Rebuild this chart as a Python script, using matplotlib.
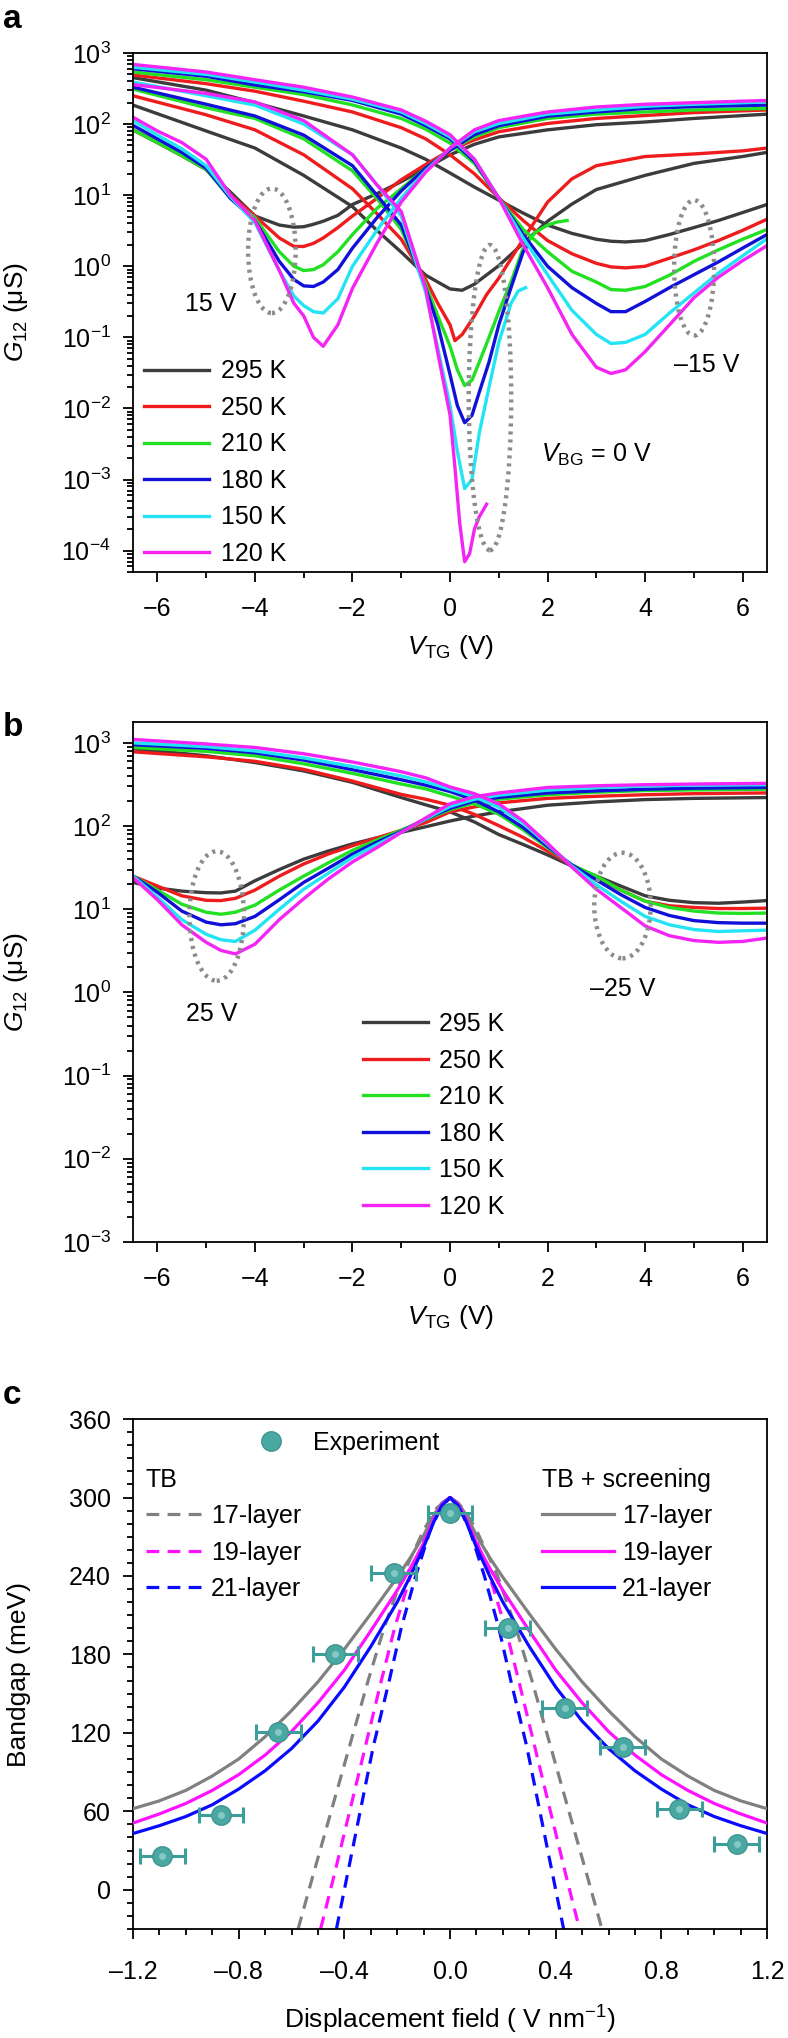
import numpy as np
import matplotlib
matplotlib.use("Agg")
import matplotlib.pyplot as plt
from matplotlib.patches import Ellipse
from matplotlib.lines import Line2D
from matplotlib.ticker import LogLocator, MultipleLocator, NullFormatter, FuncFormatter

plt.rcParams['font.family'] = ['Liberation Sans', 'DejaVu Sans']
plt.rcParams['mathtext.fontset'] = 'custom'
plt.rcParams['mathtext.rm'] = 'Liberation Sans'
plt.rcParams['mathtext.it'] = 'Liberation Sans:italic'
plt.rcParams['mathtext.bf'] = 'Liberation Sans:bold'

temps = ["295 K", "250 K", "210 K", "180 K", "150 K", "120 K"]
colors = ["#3c3c3c", "#ee1c1c", "#22e022", "#1010d8", "#22e4f4", "#f424f4"]

# ---- panel a: V_BG = 15 V (minimum near -3 V)
a15_x = [-6.5, -6, -5.5, -5, -4.5, -4, -3.5, -3.2, -3, -2.8, -2.6, -2.3, -2, -1.5, -1, -0.5,
         0, 0.5, 1, 2, 3, 4, 5, 6.5]
a15_y = [
    [83, 55, 36, 23, 11, 5.1, 3.8, 3.55, 3.6, 3.9, 4.3, 5.2, 7.4, 10.5, 15.5, 24, 37, 52, 66, 83, 98, 107, 120, 138],
    [83, 55, 36, 23, 10, 5.1, 2.5, 1.9, 1.9, 2.1, 2.5, 3.5, 5.1, 9, 16.5, 27, 43, 60, 78, 102, 120, 132, 145, 158],
    [83, 55, 36, 23, 9, 4.8, 1.6, 1.0, 0.87, 0.9, 1.05, 1.6, 2.8, 6.5, 12.3, 24, 43, 66, 89, 120, 138, 148, 158, 166],
    [96, 62, 40, 24, 9, 4.4, 1.17, 0.65, 0.53, 0.52, 0.6, 0.9, 1.8, 4.8, 11.5, 24, 43, 71, 95, 129, 148, 166, 176, 185],
    [112, 70, 45, 26, 9.5, 4.1, 0.87, 0.38, 0.28, 0.23, 0.22, 0.35, 1.0, 3.2, 9.1, 22, 46, 78, 102, 138, 158, 178, 190, 205],
    [125, 80, 55, 32, 10, 4.4, 0.87, 0.3, 0.2, 0.1, 0.075, 0.15, 0.49, 2.1, 8, 21, 46, 83, 112, 148, 174, 190, 200, 215],
]

# ---- panel a: V_BG = 0 V (minimum near 0.3 V, low-T curves stop early)
a0_x = [
    [-6.5, -5, -4, -3, -2, -1.5, -1, -0.5, 0, 0.25, 0.5, 1, 1.5, 2, 2.5, 3, 4, 5, 6, 6.5],
    [-6.5, -5, -4, -3, -2, -1.5, -1, -0.5, -0.25, 0, 0.1, 0.25, 0.5, 0.75, 1, 1.5, 2, 2.5, 3, 4, 5, 6, 6.5],
    [-6.5, -5, -4, -3, -2, -1.5, -1, -0.5, -0.25, 0, 0.15, 0.3, 0.45, 0.6, 0.8, 1, 1.25, 1.5, 1.75, 2, 2.2, 2.4],
    [-6.5, -5, -4, -3, -2, -1.5, -1, -0.5, -0.25, 0, 0.15, 0.3, 0.45, 0.6, 0.8, 1, 1.25, 1.5, 1.6],
    [-6.5, -5, -4, -3, -2, -1.5, -1, -0.5, -0.25, 0, 0.15, 0.3, 0.45, 0.6, 0.8, 1, 1.25, 1.4, 1.55],
    [-6.5, -5, -4, -3, -2, -1.5, -1, -0.5, -0.25, 0, 0.1, 0.2, 0.3, 0.4, 0.5, 0.6, 0.75],
]
a0_y = [
    [185, 80, 46, 19, 6.9, 3.2, 1.58, 0.75, 0.48, 0.46, 0.56, 1.02, 2.1, 4.3, 7.5, 12, 19, 28, 35, 40],
    [250, 135, 83, 37, 12.3, 5.5, 2.4, 0.65, 0.3, 0.15, 0.09, 0.11, 0.2, 0.4, 0.68, 2.4, 8, 17, 26, 35, 38, 42, 46],
    [310, 170, 120, 62, 22, 9, 3.3, 0.56, 0.2, 0.075, 0.035, 0.021, 0.025, 0.045, 0.1, 0.23, 0.6, 1.8, 3.0, 3.8, 4.2, 4.4],
    [330, 190, 130, 70, 26, 10, 3.8, 0.49, 0.15, 0.03, 0.011, 0.0063, 0.008, 0.017, 0.045, 0.15, 0.5, 1.6, 2.0],
    [390, 250, 185, 100, 37, 14, 5.1, 0.43, 0.07, 0.011, 0.0025, 0.00075, 0.001, 0.0045, 0.02, 0.085, 0.3, 0.45, 0.5],
    [360, 270, 205, 112, 37, 14, 5.9, 0.49, 0.06, 0.0081, 0.0015, 0.00024, 0.00007, 0.00009, 0.0002, 0.0003, 0.00045],
]

# ---- panel a: V_BG = -15 V (minimum near 3.3 V)
am15_x = [-6.5, -5, -4, -3, -2, -1, -0.5, 0, 0.5, 1, 1.5, 2, 2.5, 3, 3.3, 3.6, 4, 4.5, 5, 5.5, 6, 6.5]
am15_y = [
    [450, 300, 200, 130, 83, 46, 32, 20.5, 13, 8.5, 5.6, 3.8, 2.9, 2.4, 2.25, 2.2, 2.3, 2.8, 3.5, 4.4, 5.7, 7.4],
    [490, 370, 290, 210, 148, 89, 62, 37, 20, 9.2, 4.4, 2.3, 1.5, 1.1, 0.98, 0.95, 1.0, 1.3, 1.7, 2.3, 3.2, 4.6],
    [540, 420, 330, 260, 186, 120, 85, 54, 28, 9.1, 3.3, 1.6, 0.85, 0.6, 0.47, 0.46, 0.52, 0.75, 1.17, 1.7, 2.4, 3.3],
    [600, 470, 355, 285, 215, 138, 95, 62, 30, 9.1, 2.8, 1.0, 0.5, 0.3, 0.23, 0.23, 0.32, 0.5, 0.76, 1.15, 1.8, 2.8],
    [630, 500, 390, 300, 224, 148, 102, 66, 32, 9.1, 2.5, 0.76, 0.24, 0.11, 0.082, 0.085, 0.11, 0.22, 0.42, 0.8, 1.4, 2.45],
    [690, 540, 420, 330, 240, 158, 110, 71, 32, 9.1, 2.0, 0.5, 0.11, 0.038, 0.031, 0.035, 0.063, 0.15, 0.36, 0.7, 1.2, 1.95],
]

# ---- panel b: V_BG = 25 V (minimum near -4.6 V)
b25_x = [-6.5, -6, -5.5, -5, -4.7, -4.4, -4, -3.5, -3, -2.5, -2, -1.5, -1, -0.5, 0, 0.5, 1, 2, 3, 4, 5, 6.5]
b25_y = [
    [21, 18, 16.5, 15.8, 15.7, 16.5, 22, 30, 40, 50, 61, 72, 84, 98, 115, 132, 148, 178, 195, 208, 215, 220],
    [25, 19, 14.5, 12.8, 12.7, 13.5, 17, 25, 35, 46, 58, 72, 89, 110, 148, 170, 190, 215, 228, 238, 245, 250],
    [25, 17, 11.5, 9.2, 8.7, 9.2, 11.2, 17, 25, 36, 51, 68, 89, 120, 157, 190, 210, 238, 255, 267, 272, 277],
    [25, 16, 9.5, 7.0, 6.5, 6.7, 8.2, 13, 21, 31, 46, 64, 86, 122, 163, 200, 221, 250, 265, 277, 285, 291],
    [25, 14, 7.5, 5.0, 4.3, 4.1, 5.6, 10, 17.4, 27, 42, 60, 84, 122, 172, 210, 235, 270, 290, 303, 310, 314],
    [24, 13, 6.5, 4.0, 3.2, 2.9, 3.8, 7.5, 13.4, 23, 37, 55, 84, 125, 185, 225, 250, 291, 305, 314, 320, 326],
]

# ---- panel b: V_BG = -25 V (minimum near 5.5 V)
bm25_x = [-6.5, -5, -4, -3, -2, -1, -0.5, 0, 0.5, 1, 1.5, 2, 2.5, 3, 3.5, 4, 4.5, 5, 5.5, 6, 6.5]
bm25_y = [
    [850, 700, 580, 460, 335, 220, 180, 148, 112, 79, 60, 45, 33, 25, 19, 14.5, 12.8, 12, 11.8, 12.2, 12.7],
    [780, 680, 600, 480, 347, 240, 210, 178, 138, 101, 73, 50, 34, 24, 17, 12.5, 11, 10.5, 10.2, 10.2, 10.3],
    [880, 790, 700, 560, 430, 320, 280, 229, 185, 139, 90, 55, 34, 25, 17, 12.5, 10.5, 9.5, 9.0, 8.9, 9.0],
    [950, 860, 760, 620, 476, 360, 310, 260, 205, 148, 96, 57, 34, 22.5, 15, 10.5, 8.4, 7.3, 6.9, 6.8, 6.8],
    [1000, 900, 800, 660, 520, 400, 340, 277, 225, 168, 108, 60, 33, 19.7, 12.5, 8.2, 6.5, 5.7, 5.4, 5.5, 5.6],
    [1100, 970, 880, 740, 589, 450, 380, 295, 245, 185, 115, 62, 32, 17.4, 10.5, 6.3, 4.8, 4.2, 4.0, 4.1, 4.5],
]

# ---- panel c
exp_D = [-1.09, -0.867, -0.651, -0.434, -0.213, 0.0, 0.219, 0.434, 0.653, 0.867, 1.086]
exp_gap = [26, 57, 121, 180, 242, 288, 200, 139, 109, 62, 35]
exp_err = 0.085

layers = ["17-layer", "19-layer", "21-layer"]
theory_colors = ["#808080", "#ff10ff", "#0a0aff"]

scr_D = [-1.2, -1.1, -1.0, -0.9, -0.8, -0.7, -0.6, -0.5, -0.4, -0.3, -0.2, -0.15, -0.1, -0.06, -0.03, 0.0,
         0.03, 0.06, 0.1, 0.15, 0.2, 0.3, 0.4, 0.5, 0.6, 0.7, 0.8, 0.9, 1.0, 1.1, 1.2]
scr_gap = [
    [62, 68, 76, 87, 100, 117, 137, 159, 184, 211, 239, 254, 271, 287, 296, 300,
     296, 287, 271, 254, 239, 211, 184, 159, 137, 117, 100, 87, 76, 68, 62],
    [51, 58, 66, 76, 88, 103, 121, 143, 168, 198, 229, 246, 265, 284, 295, 300,
     295, 284, 265, 246, 229, 198, 168, 143, 121, 103, 88, 76, 66, 58, 51],
    [43, 49, 56, 65, 77, 91, 108, 129, 155, 186, 220, 240, 262, 282, 294, 300,
     294, 282, 262, 240, 220, 186, 155, 129, 108, 91, 77, 65, 56, 49, 43],
]

tb_D = [
    [-0.575, -0.52, -0.45, -0.38, -0.31, -0.25, -0.18, -0.1, -0.05, 0.0,
     0.05, 0.1, 0.18, 0.25, 0.31, 0.38, 0.45, 0.52, 0.575],
    [-0.49, -0.44, -0.38, -0.32, -0.26, -0.21, -0.15, -0.085, -0.04, 0.0,
     0.04, 0.085, 0.15, 0.21, 0.26, 0.32, 0.38, 0.44, 0.49],
    [-0.43, -0.39, -0.34, -0.29, -0.23, -0.185, -0.13, -0.075, -0.035, 0.0,
     0.035, 0.075, 0.13, 0.185, 0.23, 0.29, 0.34, 0.39, 0.43],
]
tb_gap = [-30, 10, 60, 110, 160, 200, 240, 275, 292, 300,
          292, 275, 240, 200, 160, 110, 60, 10, -30]

FS = 18


def style(ax, xpad=11):
    for s in ax.spines.values():
        s.set_linewidth(1.3)
    ax.tick_params(which='both', direction='out', top=False, right=False,
                   width=1.3, labelsize=FS)
    ax.tick_params(which='major', length=7)
    ax.tick_params(which='minor', length=4)
    ax.tick_params(axis='x', which='major', pad=xpad)
    ax.tick_params(axis='y', which='major', pad=9)


def dotted_ellipse(ax, cx, cy, w, h):
    e = Ellipse((cx, cy), w, h, transform=ax.transAxes, fill=False,
                ec="#8c8c8c", lw=3.2, ls=(0, (0.7, 1.1)), zorder=5)
    ax.add_patch(e)


def labels(ax, xl, yl, xl_y, yl_x):
    ax.set_xlabel(xl, fontsize=FS + 1)
    ax.set_ylabel(yl, fontsize=FS + 1)
    ax.xaxis.label.set_va('center')
    ax.yaxis.label.set_va('center')
    ax.xaxis.set_label_coords(0.5, xl_y)
    ax.yaxis.set_label_coords(yl_x, 0.5)


fig = plt.figure(figsize=(7.88, 20.38), dpi=100)
ax_a = fig.add_axes([0.1688, 0.7193, 0.8046, 0.2547])
ax_b = fig.add_axes([0.1688, 0.3906, 0.8046, 0.2551])
ax_c = fig.add_axes([0.1688, 0.0535, 0.8046, 0.2502])

# ---------------- a
for i, c in enumerate(colors):
    ax_a.plot(a15_x, a15_y[i], color=c, lw=2.4)
    ax_a.plot(am15_x, am15_y[i], color=c, lw=2.4)
    ax_a.plot(a0_x[i], a0_y[i], color=c, lw=2.4, label=temps[i])
ax_a.set_yscale('log')
ax_a.set_xlim(-6.5, 6.5)
ax_a.set_ylim(5e-5, 1e3)
ax_a.xaxis.set_major_locator(MultipleLocator(2))
ax_a.xaxis.set_minor_locator(MultipleLocator(1))
ax_a.yaxis.set_major_locator(LogLocator(base=10, numticks=20))
ax_a.yaxis.set_minor_locator(LogLocator(base=10, subs=np.arange(2, 10), numticks=20))
ax_a.yaxis.set_minor_formatter(NullFormatter())
style(ax_a)
labels(ax_a, r"$V_{\mathrm{TG}}$ (V)", r"$G_{12}$ (μS)", -0.145, -0.185)
ax_a.legend(loc='lower left', bbox_to_anchor=(0.018, 0.012), frameon=False, fontsize=FS,
            handlelength=2.6, handletextpad=0.45, labelspacing=0.5,
            borderaxespad=0, borderpad=0)
dotted_ellipse(ax_a, 0.219, 0.619, 0.075, 0.24)
dotted_ellipse(ax_a, 0.563, 0.336, 0.067, 0.588)
dotted_ellipse(ax_a, 0.885, 0.586, 0.063, 0.261)
ax_a.text(0.123, 0.517, "15 V", transform=ax_a.transAxes, ha='center', va='center', fontsize=FS)
ax_a.text(0.905, 0.399, "\u201315 V", transform=ax_a.transAxes, ha='center', va='center', fontsize=FS)
ax_a.text(0.73, 0.225, r"$V_{\mathrm{BG}}$ = 0 V", transform=ax_a.transAxes, ha='center',
          va='center', fontsize=FS)

# ---------------- b
for i, c in enumerate(colors):
    ax_b.plot(bm25_x, bm25_y[i], color=c, lw=2.4)
    ax_b.plot(b25_x, b25_y[i], color=c, lw=2.4, label=temps[i])
ax_b.set_yscale('log')
ax_b.set_xlim(-6.5, 6.5)
ax_b.set_ylim(1e-3, 10 ** 3.25)
ax_b.xaxis.set_major_locator(MultipleLocator(2))
ax_b.xaxis.set_minor_locator(MultipleLocator(1))
ax_b.yaxis.set_major_locator(LogLocator(base=10, numticks=20))
ax_b.yaxis.set_minor_locator(LogLocator(base=10, subs=np.arange(2, 10), numticks=20))
ax_b.yaxis.set_minor_formatter(NullFormatter())
style(ax_b)
labels(ax_b, r"$V_{\mathrm{TG}}$ (V)", r"$G_{12}$ (μS)", -0.145, -0.185)
ax_b.legend(loc='lower left', bbox_to_anchor=(0.362, 0.045), frameon=False, fontsize=FS,
            handlelength=2.6, handletextpad=0.45, labelspacing=0.5,
            borderaxespad=0, borderpad=0)
dotted_ellipse(ax_b, 0.132, 0.627, 0.086, 0.249)
dotted_ellipse(ax_b, 0.772, 0.647, 0.089, 0.203)
ax_b.text(0.124, 0.438, "25 V", transform=ax_b.transAxes, ha='center', va='center', fontsize=FS)
ax_b.text(0.773, 0.486, "\u201325 V", transform=ax_b.transAxes, ha='center', va='center', fontsize=FS)

# ---------------- c
tb_handles = []
scr_handles = []
for i, c in enumerate(theory_colors):
    h1, = ax_c.plot(tb_D[i], tb_gap, color=c, lw=2.3, ls=(0, (4, 2.6)), zorder=2)
    tb_handles.append(h1)
for i, c in enumerate(theory_colors):
    h2, = ax_c.plot(scr_D, scr_gap[i], color=c, lw=2.3, zorder=3)
    scr_handles.append(h2)
ax_c.errorbar(exp_D, exp_gap, xerr=exp_err, fmt='none', ecolor="#3c9e99",
              elinewidth=2.2, capsize=6, capthick=2.2, zorder=4)
ax_c.plot(exp_D, exp_gap, 'o', ms=14, mfc="#4aa8a3", mec="#3e9692", mew=1, zorder=5)
ax_c.plot(exp_D, exp_gap, 'o', ms=5, mfc="#9fd6d2", mec='none', alpha=0.7, zorder=6)

ax_c.set_xlim(-1.2, 1.2)
ax_c.set_ylim(-30, 360)
ax_c.xaxis.set_major_locator(MultipleLocator(0.4))
ax_c.xaxis.set_minor_locator(MultipleLocator(0.1))
ax_c.yaxis.set_major_locator(MultipleLocator(60))
ax_c.yaxis.set_minor_locator(MultipleLocator(10))
style(ax_c, xpad=15)
ax_c.xaxis.set_major_formatter(FuncFormatter(lambda v, p: f"{v:.1f}".replace("-", "\u2013")))
labels(ax_c, "Displacement field ( V nm$^{\\mathrm{-1}}$)", "Bandgap (meV)", -0.178, -0.18)

exp_handle = Line2D([], [], ls='none', marker='o', ms=14, mfc="#4aa8a3", mec="#3e9692")
leg1 = ax_c.legend([exp_handle], ["Experiment"], loc='center left', bbox_to_anchor=(0.19, 0.954),
                   frameon=False, fontsize=FS, handlelength=1.4, handletextpad=1.0,
                   borderaxespad=0, borderpad=0)
ax_c.add_artist(leg1)
leg2 = ax_c.legend(tb_handles, layers, title="TB", loc='upper left', bbox_to_anchor=(0.02, 0.905),
                   frameon=False, fontsize=FS, title_fontsize=FS, alignment='left',
                   handlelength=2.3, handletextpad=0.3, labelspacing=0.5,
                   borderaxespad=0, borderpad=0)
ax_c.add_artist(leg2)
ax_c.legend(scr_handles, layers, title="TB + screening", loc='upper left',
            bbox_to_anchor=(0.645, 0.905), frameon=False, fontsize=FS, title_fontsize=FS,
            alignment='left', handlelength=2.9, handletextpad=0.3, labelspacing=0.5,
            borderaxespad=0, borderpad=0)

# panel letters
fig.text(0.004, 0.9905, "a", fontsize=24, fontweight='bold', va='center', ha='left')
fig.text(0.004, 0.643, "b", fontsize=24, fontweight='bold', va='center', ha='left')
fig.text(0.004, 0.3155, "c", fontsize=24, fontweight='bold', va='center', ha='left')

fig.savefig("out.png", dpi=100)
